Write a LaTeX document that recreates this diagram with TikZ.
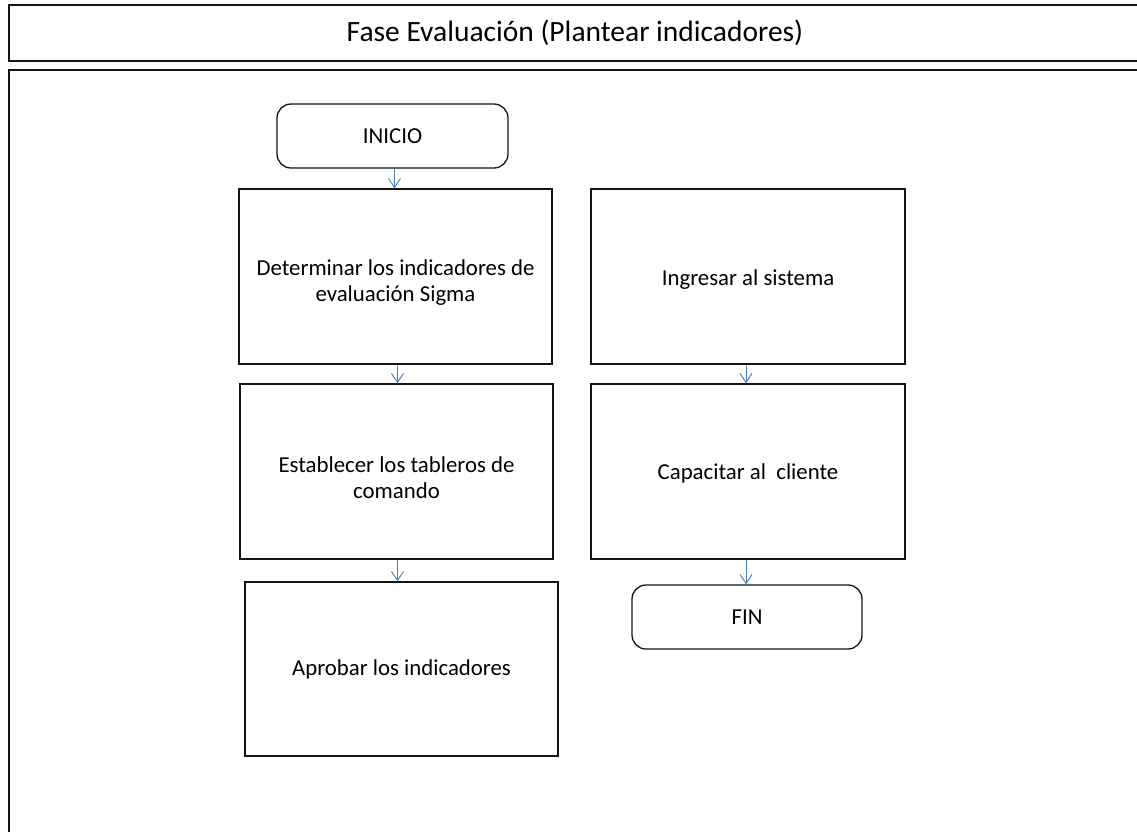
\documentclass[tikz,border=0pt]{standalone}
\usepackage{fontspec}
\setmainfont{Carlito}
\usetikzlibrary{arrows.meta}
\definecolor{flowblue}{RGB}{79,129,189}
\definecolor{frame}{RGB}{20,20,20}
\newcommand{\lowertext}[2]{\raisebox{-#1}[\height][\depth]{\parbox{300pt}{\centering #2}}}
\tikzset{
  stepbox/.style={draw=frame, line width=1.3pt, rectangle, align=center,
    inner sep=0pt, font=\fontsize{22.8}{26}\selectfont},
  endbox/.style={stepbox, rounded corners=14pt},
  flow/.style={draw=flowblue, line width=1pt,
    -{Straight Barb[length=9pt,width=12pt,line width=1pt]}},
}
\begin{document}
\begin{tikzpicture}[x=1pt,y=-1pt]
\useasboundingbox (0,0) rectangle (1137,831);
\clip (0,0) rectangle (1137,831);
\fill[white] (0,0) rectangle (1137,831);
% title strip and main frame (open to the right and bottom)
\draw[frame, line width=1.5pt] (9,5) rectangle (1150,61);
\draw[frame, line width=1.5pt] (9,70) rectangle (1150,850);
\node[font=\fontsize{29.5}{34}\selectfont] (title) at (575,33) {Fase Evaluación (Plantear indicadores)};
% left column
\node[endbox, minimum width=231pt, minimum height=64pt] (ini) at (392.5,136) {INICIO};
\node[stepbox, minimum width=313pt, minimum height=175pt] (det) at (395.5,276.5) {\lowertext{6pt}{Determinar los indicadores de\\evaluación Sigma}};
\node[stepbox, minimum width=313pt, minimum height=175pt] (est) at (396.5,471.5) {\lowertext{6pt}{Establecer los tableros de\\comando}};
\node[stepbox, minimum width=313pt, minimum height=174pt] (apr) at (401.5,669) {Aprobar los indicadores};
% right column
\node[stepbox, minimum width=314pt, minimum height=175pt] (ing) at (748,276.5) {\lowertext{3pt}{Ingresar al sistema}};
\node[stepbox, minimum width=314pt, minimum height=175pt] (cap) at (748,471.5) {\lowertext{2pt}{Capacitar al \ cliente}};
\node[endbox, minimum width=230pt, minimum height=64pt] (fin) at (747,617) {FIN};
% connectors
\draw[flow] (ini.south) ++(2,0) coordinate (a1) -- (a1 |- det.north);
\draw[flow] (det.south) ++(2,0) coordinate (a2) -- (a2 |- est.north);
\draw[flow] (est.south) ++(1,0) coordinate (a3) -- (a3 |- apr.north);
\draw[flow] (ing.south) ++(-2,0) coordinate (a4) -- (a4 |- cap.north);
\draw[flow] (cap.south) ++(-2,0) coordinate (a5) -- (a5 |- fin.north);
\end{tikzpicture}
\end{document}
